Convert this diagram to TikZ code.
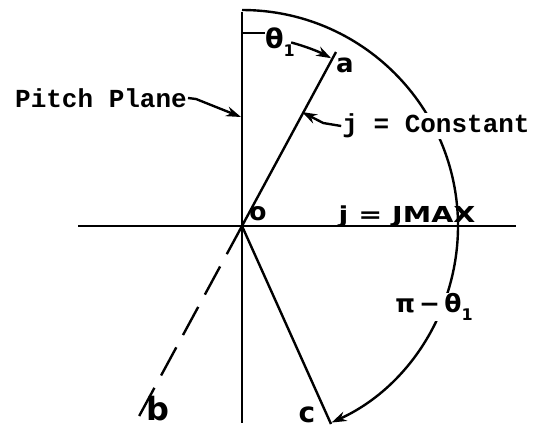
\documentclass[tikz,border=0pt]{standalone}
\usepackage{fontspec}
\setmonofont{Liberation Mono}
\newfontfamily\handfont{DejaVu Sans}
\newcommand\handsz[1]{\handfont\bfseries\fontsize{#1}{#1}\selectfont}
\usetikzlibrary{arrows.meta}
\begin{document}
\begin{tikzpicture}[x=1pt,y=-1pt,
  ax/.style={line width=2.6pt},
  ln/.style={line width=2.4pt},
  tw/.style={font=\ttfamily\bfseries\fontsize{26}{26}\selectfont, inner sep=1pt},
  hw/.style={inner sep=0.5pt},
  tip/.style={-{Stealth[length=15pt,width=10pt]}}]
\useasboundingbox (0,0) rectangle (535,429);
\coordinate (O) at (242,226);
\coordinate (top) at (242,12);
\coordinate (bot) at (242,423);
\coordinate (left) at (78,226);
\coordinate (right) at (516,226);
\coordinate (A) at (336,52);
\coordinate (C) at (331,424);
\coordinate (B) at (137,420);
\draw[ax] (top) -- (bot);
\draw[ax] (left) -- (right);
\draw[ln] (O) -- (A);
\draw[ln] (O) -- (C);
\draw[ln, dash pattern=on 32pt off 14pt] (O) -- (B);
\draw[ln, tip] (O) ++(-90:216) arc[start angle=-90, end angle=65.5, radius=216];
% theta_1
\coordinate (t0) at (243,33);
\coordinate (t1) at (265,33);
\draw[ln] (t0) -- (t1);
\node[hw] (th) at (280,42) {\handsz{27}θ\raisebox{-8pt}{\handsz{16}1}};
\draw[ln, tip] (O) ++(-75:190) arc[start angle=-75, end angle=-62, radius=190];
\node[hw] (la) at (345,65) {\handsz{26}a};
% pitch plane
\node[tw] (pp) at (101,98) {Pitch Plane};
\coordinate (ppt) at (241,117);
\draw[ln, tip] (pp.east) -- ++(8,1) -- (ppt);
% j = Constant
\node[tw, fill=white] (jc) at (436,126) {j = Constant};
\coordinate (jt) at (302,112);
\draw[ln, tip] (jc.west) -- ++(-18,-3) -- (jt);
% other labels
\node[hw] (lo) at (258,214) {\handsz{25}o};
\node[hw] (jm) at (407,217) {\scalebox{1.3}[1]{\handsz{22}j = JMAX}};
\node[hw, fill=white] (pt) at (434,307) {\handsz{25}π\,−\,θ\raisebox{-8pt}{\handsz{16}1}};
\node[hw] (lb) at (158,409) {\handsz{32}b};
\node[hw] (lc) at (307,415) {\handsz{28}c};
\end{tikzpicture}
\end{document}
